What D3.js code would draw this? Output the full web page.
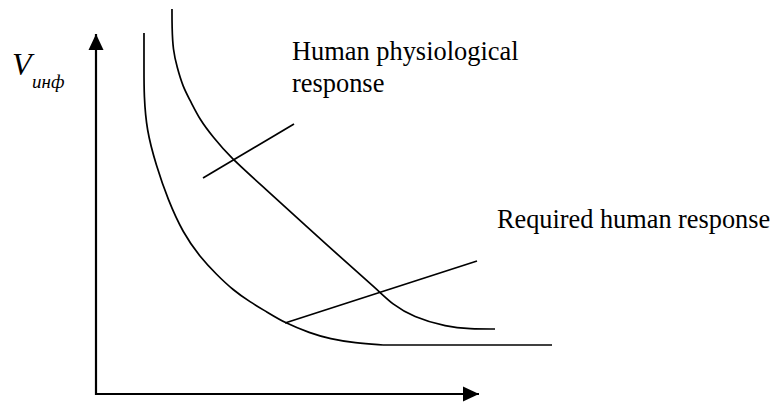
<!DOCTYPE html>
<html>
<head>
<meta charset="utf-8">
<script src="https://cdn.jsdelivr.net/npm/d3@7"></script>
</head>
<body style="margin:0">
<script>
// schematic values, axis runs 0..100 on both sides
const lowerCurve = [
  [12.53, 100.28], [12.53, 90], [12.53, 83.06], [13.19, 73.33], [15.67, 63.61],
  [18.8, 53.89], [22.72, 44.72], [27.15, 38.06], [31.59, 33.06], [35.77, 28.89],
  [40.21, 25.56], [44.65, 22.78], [49.35, 19.72], [55.87, 16.94], [61.1, 15.28],
  [67.62, 14.17], [74.93, 13.61]
]
const lowerTail = [[74.93, 13.61], [119.06, 13.61]]

const upperCurve = [
  [19.84, 106.94], [19.84, 101.94], [20.1, 95.56], [21.15, 90.83], [22.72, 85.28],
  [24.54, 81.67], [27.15, 76.11], [30.55, 71.39], [34.99, 65.83], [42.82, 58.33],
  [61.1, 40.56], [74.15, 28.33], [77.28, 25], [82.77, 21.39], [91.64, 18.61],
  [97.65, 18.06], [104.18, 18.06]
]

const leaders = [
  [[27.94, 60], [51.7, 75]],
  [[49.35, 19.72], [99.48, 36.94]]
]

const labelTexts = ['Human physiological', 'response', 'Required human response', 'V', 'инф']
const labelX = [292, 292, 497, 12, 32]
const labelY = [60, 92, 228, 75, 88]
const labelSize = [26.4, 26.4, 26.3, 32, 19]
const labelItalic = [false, false, false, true, true]

const width = 775
const height = 403

const svg = d3
  .select('body')
  .append('svg')
  .attr('width', width)
  .attr('height', height)
  .attr('font-family', 'Liberation Serif')

svg.append('rect').attr('width', width).attr('height', height).attr('fill', 'white')

const xScale = d3.scaleLinear().domain([0, 100]).range([96, 479])
const yScale = d3.scaleLinear().domain([0, 100]).range([394, 34])

// arrow heads
svg
  .append('defs')
  .append('marker')
  .attr('id', 'arrow')
  .attr('markerUnits', 'userSpaceOnUse')
  .attr('viewBox', '0 0 16 16')
  .attr('refX', 16)
  .attr('refY', 8)
  .attr('markerWidth', 16)
  .attr('markerHeight', 16)
  .attr('orient', 'auto')
  .append('path')
  .attr('d', 'M0,0.5 L16,8 L0,15.5 Z')
  .attr('fill', 'black')

svg
  .append('line')
  .attr('x1', xScale(0))
  .attr('y1', yScale(0) + 1)
  .attr('x2', xScale(0))
  .attr('y2', yScale(100))
  .attr('stroke', 'black')
  .attr('stroke-width', 2.2)
  .attr('marker-end', 'url(#arrow)')

svg
  .append('line')
  .attr('x1', xScale(0) - 1)
  .attr('y1', yScale(0))
  .attr('x2', xScale(100))
  .attr('y2', yScale(0))
  .attr('stroke', 'black')
  .attr('stroke-width', 2.2)
  .attr('marker-end', 'url(#arrow)')

// curves
const curved = d3
  .line()
  .x(d => xScale(d[0]))
  .y(d => yScale(d[1]))
  .curve(d3.curveBasis)

svg
  .selectAll('.curve')
  .data([lowerCurve, upperCurve])
  .enter()
  .append('path')
  .attr('class', 'curve')
  .attr('d', d => curved(d))
  .attr('fill', 'none')
  .attr('stroke', 'black')
  .attr('stroke-width', 1.7)

const straight = d3
  .line()
  .x(d => xScale(d[0]))
  .y(d => yScale(d[1]))

svg
  .selectAll('.leader')
  .data(leaders.concat([lowerTail]))
  .enter()
  .append('path')
  .attr('class', 'leader')
  .attr('d', d => straight(d))
  .attr('fill', 'none')
  .attr('stroke', 'black')
  .attr('stroke-width', 1.7)

// texts
svg
  .selectAll('.label')
  .data(labelTexts)
  .enter()
  .append('text')
  .attr('class', 'label')
  .attr('x', (d, i) => labelX[i])
  .attr('y', (d, i) => labelY[i])
  .style('font-family', "'Liberation Serif'")
  .style('font-size', (d, i) => labelSize[i] + 'px')
  .style('font-style', (d, i) => (labelItalic[i] ? 'italic' : 'normal'))
  .text(d => d)
</script>
</body>
</html>
